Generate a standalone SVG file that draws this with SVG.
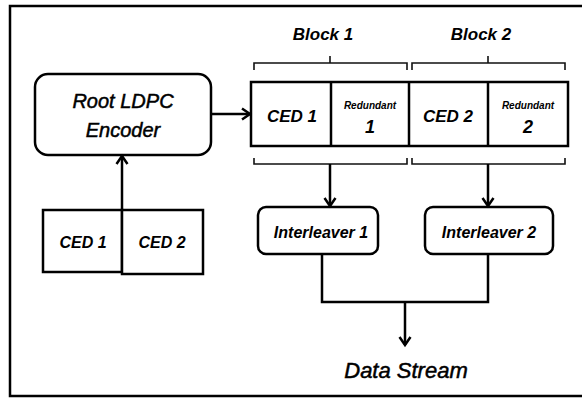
<svg xmlns="http://www.w3.org/2000/svg" width="582" height="398" viewBox="0 0 582 398">
<defs>
<style>
.ln{fill:none;stroke:#000;stroke-width:2.5}
.br{fill:none;stroke:#111;stroke-width:1.6}
.bx{fill:#fff;stroke:#000;stroke-width:2.5}
.t{font-family:"Liberation Sans",Arial,sans-serif;font-style:italic;font-weight:bold;fill:#000;text-anchor:middle}
.r{font-family:"Liberation Sans",Arial,sans-serif;font-style:italic;fill:#000;stroke:#000;stroke-width:0.5;text-anchor:middle}
</style>
<marker id="ah" markerUnits="userSpaceOnUse" markerWidth="14" markerHeight="14" viewBox="0 0 14 14" refX="11" refY="7" orient="auto">
<path d="M3,1.5 L11,7 L3,12.5" fill="none" stroke="#000" stroke-width="2.5"/>
</marker>
</defs>
<rect x="10" y="6" width="600" height="390" fill="#fff" stroke="#000" stroke-width="2.5"/>

<g id="encoder">
<rect class="bx" x="35" y="74" width="176" height="81" rx="13"/>
<text class="r" x="123" y="108" font-size="20">Root LDPC</text>
<text class="r" x="123" y="137" font-size="20">Encoder</text>
</g>

<g id="ced-input">
<rect class="bx" x="43" y="210" width="79" height="62"/>
<rect class="bx" x="122" y="210" width="81" height="64"/>
<text class="t" x="83" y="248" font-size="16">CED 1</text>
<text class="t" x="162" y="248" font-size="16">CED 2</text>
</g>

<g id="block-row">
<rect class="bx" x="251" y="82" width="317" height="64"/>
<line class="ln" x1="331" y1="82" x2="331" y2="146"/>
<line class="ln" x1="409" y1="82" x2="409" y2="146"/>
<line class="ln" x1="488" y1="82" x2="488" y2="146"/>
<text class="t" x="292" y="122" font-size="17">CED 1</text>
<text class="t" x="370" y="109" font-size="10">Redundant</text>
<text class="t" x="370" y="133" font-size="18">1</text>
<text class="t" x="448" y="122" font-size="17">CED 2</text>
<text class="t" x="528" y="109" font-size="10">Redundant</text>
<text class="t" x="528" y="133" font-size="18">2</text>
</g>

<g id="block1-label">
<path class="br" d="M254,70 V63 H407 V70 M330,63 V56"/>
<text class="t" x="323" y="40" font-size="17">Block 1</text>
</g>
<g id="block2-label">
<path class="br" d="M412,70 V63 H565 V70 M488,63 V56" stroke="#333"/>
<text class="t" x="481" y="40" font-size="17">Block 2</text>
</g>

<g id="bottom-braces">
<path class="br" d="M254,158 V164 H407 V158"/>
<path class="br" d="M412,158 V164 H565 V158"/>
</g>

<g id="interleaver1">
<rect class="bx" x="258" y="207" width="120" height="47" rx="8"/>
<text class="t" x="321" y="238" font-size="16">Interleaver 1</text>
</g>
<g id="interleaver2">
<rect class="bx" x="425" y="207" width="128" height="47" rx="8"/>
<text class="t" x="489" y="238" font-size="16">Interleaver 2</text>
</g>

<g id="data-stream">
<text class="r" x="406" y="378" font-size="22">Data Stream</text>
</g>

<g id="connectors">
<line class="ln" x1="211" y1="114" x2="250" y2="114" marker-end="url(#ah)"/>
<line class="ln" x1="122" y1="210" x2="122" y2="156" marker-end="url(#ah)"/>
<line class="ln" x1="330" y1="164" x2="330" y2="206" marker-end="url(#ah)"/>
<line class="ln" x1="488" y1="164" x2="488" y2="206" marker-end="url(#ah)"/>
<path class="ln" d="M322,254 V302 H488 V254"/>
<line class="ln" x1="405" y1="302" x2="405" y2="345" marker-end="url(#ah)"/>
</g>
</svg>
